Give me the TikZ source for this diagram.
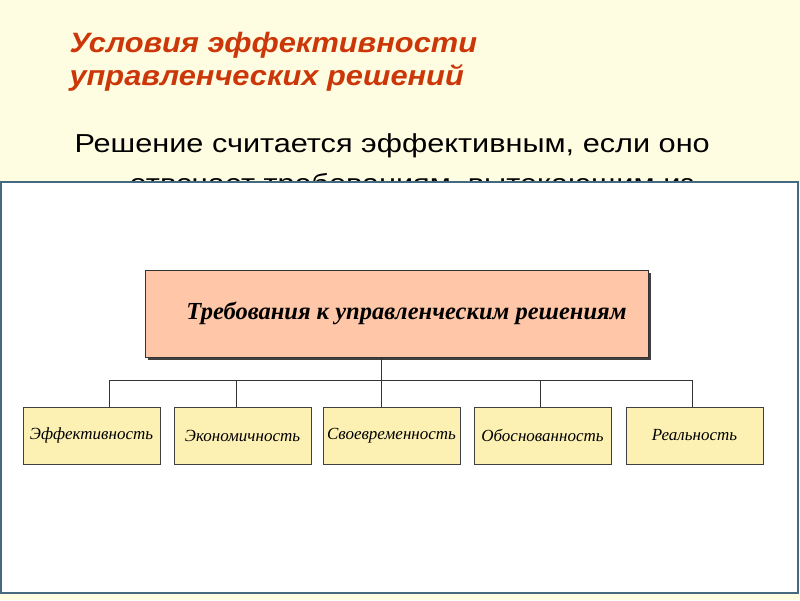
\documentclass[tikz,border=0pt]{standalone}
\usepackage{fontspec}
\setmainfont{Liberation Serif}
\setsansfont{Liberation Sans}
\newfontfamily\widesans[FakeStretch=1.18]{Liberation Sans}
\newfontfamily\titlesans[FakeStretch=1.1]{Liberation Sans}
\usepackage{tikz}
\usetikzlibrary{calc}
\usetikzlibrary{shadows}
\definecolor{paper}{RGB}{255,253,225}
\definecolor{titlered}{RGB}{204,55,10}
\definecolor{salmon}{RGB}{255,199,168}
\definecolor{boxyellow}{RGB}{252,241,178}
\definecolor{panelrim}{RGB}{70,105,130}

\begin{document}
\begin{tikzpicture}[x=1pt,y=-1pt,
	head/.style={draw=black!80,line width=1pt,fill=salmon,minimum width=503pt,minimum height=87pt,inner sep=0pt,
		general shadow={fill=black!75,shadow xshift=3pt,shadow yshift=-3pt},
		font=\fontsize{24.5}{29}\selectfont\bfseries\itshape},
	item/.style={draw=black!75,line width=0.8pt,fill=boxyellow,minimum width=137pt,minimum height=57pt,inner sep=0pt,
		font=\fontsize{17}{20}\selectfont\itshape},
	heading/.style={anchor=base west,text=titlered,font=\titlesans\bfseries\itshape\fontsize{28}{33}\selectfont},
	plain/.style={anchor=base west,font=\widesans\fontsize{26}{32}\selectfont},
	link/.style={draw=black!80,line width=0.8pt}]
	\fill [paper] (0,0) rectangle (800,600);
	\useasboundingbox (0,0) rectangle (800,600);
	% title and text
	\node [heading] (title1) at (66,52) {Условия эффективности};
	\node [heading] (title2) at (66,85) {управленческих решений};
	\node [plain] (line1) at (71,152) {Решение считается эффективным, если оно};
	\node [plain] (line2) at (126,192) {отвечает требованиям, вытекающим из};
	\draw [panelrim,line width=1.5pt,fill=white] (0.75,182) rectangle (798,593);
	% scheme
	\node [head] (req) at (396.5,313.5) {\hspace*{20pt}Требования к управленческим решениям};
	\node [item] (e1) at (91.5,435.5) {Эффективность};
	\node [item] (e2) at (242.5,435.5) {Экономичность};
	\node [item] (e3) at (391.5,435.5) {Своевременность};
	\node [item] (e4) at (542.5,435.5) {Обоснованность};
	\node [item] (e5) at (694.5,435.5) {Реальность};
	\coordinate (b1) at (109,380);
	\coordinate (b2) at (236,380);
	\coordinate (b3) at (381,380);
	\coordinate (b4) at (540,380);
	\coordinate (b5) at (692,380);
	\draw [link] (req.south -| b3) -- (b3);
	\draw [link] (b1) -- (b5);
	\draw [link] (b1) -- (b1 |- e1.north);
	\draw [link] (b2) -- (b2 |- e2.north);
	\draw [link] (b3) -- (b3 |- e3.north);
	\draw [link] (b4) -- (b4 |- e4.north);
	\draw [link] (b5) -- (b5 |- e5.north);
\end{tikzpicture}
\end{document}
